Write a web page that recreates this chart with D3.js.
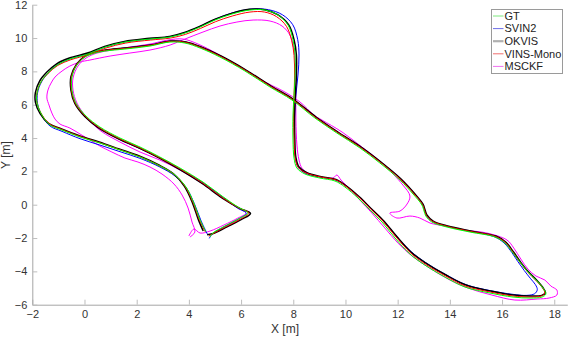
<!DOCTYPE html>
<html><head><meta charset="utf-8">
<script src="https://cdn.jsdelivr.net/npm/d3@7/dist/d3.min.js"></script>
<style>body{margin:0;background:#fff}svg{display:block;font-family:"Liberation Sans",Arial,sans-serif}</style>
</head><body><svg id="c" width="568" height="338"></svg>
<script>
const xTicks=[-2,0,2,4,6,8,10,12,14,16,18];
const yTicks=[-6,-4,-2,0,2,4,6,8,10,12];
const seriesNames=["GT","SVIN2","OKVIS","VINS-Mono","MSCKF"];

const gt=[[4.65,-1.64],[4.43,-0.92],[4.19,0.10],[3.89,1.06],[3.47,1.78],[2.89,2.32],[2.13,2.86],[1.36,3.28],[0.59,3.70],[-0.17,4.06],[-0.86,4.48],[-1.32,4.78],[-1.63,5.38],[-1.82,6.10],[-1.82,6.70],[-1.67,7.36],[-1.40,7.90],[-1.05,8.38],[-0.56,8.74],[0.13,9.04],[0.79,9.46],[1.55,9.76],[2.51,9.94],[3.28,10.06],[3.85,10.30],[4.43,10.66],[5.00,11.08],[5.65,11.44],[6.34,11.68],[6.92,11.68],[7.41,11.38],[7.80,10.78],[7.99,9.88],[8.07,8.98],[8.07,7.78],[8.03,6.58],[7.99,5.38],[7.99,3.88],[8.03,2.80],[8.14,2.20],[8.45,1.84],[9.02,1.60],[9.60,1.42],[9.98,1.06],[10.48,0.40],[10.94,-0.32],[11.40,-1.04],[11.90,-2.00],[12.47,-2.96],[13.04,-3.62],[13.81,-4.34],[14.58,-4.94],[15.54,-5.30],[16.42,-5.54],[17.07,-5.60],[17.53,-5.54],[17.68,-5.36],[17.57,-5.00],[17.34,-4.58],[16.99,-4.04],[16.68,-3.44],[16.42,-2.90],[16.11,-2.30],[15.73,-1.94],[14.77,-1.64],[13.89,-1.34],[13.31,-1.04],[13.08,-0.68],[13.01,-0.38],[12.93,-0.02],[12.59,0.64],[12.09,1.48],[11.32,2.50],[10.56,3.40],[9.67,4.30],[8.83,5.20],[7.95,6.28],[7.11,7.06],[6.15,8.02],[5.19,8.86],[4.43,9.40],[3.85,9.70],[3.28,9.76],[2.51,9.52],[1.55,9.34],[0.79,9.22],[0.40,9.10],[0.02,8.86],[-0.29,8.38],[-0.48,7.66],[-0.48,6.88],[-0.33,6.10],[0.06,5.32],[0.59,4.66],[1.36,4.00],[2.13,3.46],[2.89,2.86],[3.66,2.20],[4.54,1.36],[5.27,0.52],[5.88,-0.14],[6.26,-0.50],[5.96,-0.80],[5.38,-1.28],[4.92,-1.70],[4.81,-1.94]];

const svin2=[[4.72,-1.80],[4.47,-0.98],[4.21,0.06],[3.90,1.02],[3.47,1.72],[2.89,2.26],[2.13,2.78],[1.36,3.18],[0.59,3.58],[-0.17,3.96],[-0.86,4.40],[-1.32,4.72],[-1.63,5.34],[-1.80,6.08],[-1.80,6.70],[-1.65,7.36],[-1.38,7.92],[-1.03,8.40],[-0.54,8.76],[0.13,9.06],[0.79,9.46],[1.55,9.76],[2.51,9.94],[3.28,10.08],[3.85,10.32],[4.43,10.70],[5.00,11.12],[5.65,11.50],[6.40,11.74],[7.05,11.70],[7.58,11.40],[7.98,10.80],[8.17,9.90],[8.22,8.98],[8.18,7.78],[8.10,6.58],[8.05,5.38],[8.04,3.88],[8.08,2.80],[8.20,2.22],[8.50,1.86],[9.05,1.66],[9.62,1.48],[10.02,1.12],[10.52,0.46],[10.98,-0.24],[11.45,-0.94],[11.95,-1.88],[12.52,-2.82],[13.08,-3.48],[13.85,-4.20],[14.62,-4.80],[15.56,-5.16],[16.42,-5.38],[16.95,-5.44],[17.25,-5.34],[17.35,-5.10],[17.28,-4.80],[17.10,-4.45],[16.85,-3.95],[16.60,-3.40],[16.38,-2.88],[16.08,-2.30],[15.70,-1.92],[14.77,-1.60],[13.89,-1.30],[13.33,-1.00],[13.10,-0.64],[13.03,-0.34],[12.95,0.02],[12.62,0.70],[12.12,1.54],[11.35,2.56],[10.58,3.46],[9.69,4.36],[8.85,5.26],[7.97,6.34],[7.13,7.12],[6.17,8.08],[5.21,8.92],[4.45,9.46],[3.87,9.76],[3.28,9.82],[2.51,9.58],[1.55,9.40],[0.79,9.26],[0.40,9.14],[0.02,8.90],[-0.30,8.40],[-0.50,7.66],[-0.50,6.88],[-0.35,6.08],[0.04,5.28],[0.57,4.60],[1.34,3.92],[2.11,3.38],[2.89,2.80],[3.66,2.14],[4.56,1.30],[5.28,0.46],[5.86,-0.20],[6.20,-0.52],[5.92,-0.84],[5.36,-1.32],[4.90,-1.76],[4.78,-2.02]];

const okvis=[[4.55,-1.58],[4.36,-0.88],[4.13,0.14],[3.83,1.10],[3.42,1.84],[2.85,2.38],[2.10,2.92],[1.33,3.34],[0.56,3.76],[-0.20,4.14],[-0.90,4.56],[-1.38,4.88],[-1.70,5.46],[-1.88,6.14],[-1.88,6.74],[-1.72,7.42],[-1.44,7.96],[-1.08,8.44],[-0.58,8.80],[0.11,9.10],[0.77,9.50],[1.53,9.80],[2.49,9.98],[3.26,10.10],[3.83,10.34],[4.41,10.70],[4.98,11.12],[5.63,11.48],[6.32,11.72],[6.90,11.70],[7.40,11.40],[7.82,10.80],[8.03,9.90],[8.12,8.98],[8.12,7.78],[8.08,6.58],[8.05,5.38],[8.06,3.88],[8.10,2.84],[8.22,2.26],[8.52,1.92],[9.08,1.68],[9.66,1.50],[10.04,1.12],[10.54,0.46],[11.00,-0.26],[11.46,-0.96],[11.96,-1.90],[12.52,-2.86],[13.08,-3.50],[13.85,-4.22],[14.62,-4.82],[15.56,-5.18],[16.44,-5.42],[17.08,-5.48],[17.52,-5.44],[17.66,-5.28],[17.55,-4.94],[17.32,-4.52],[16.98,-3.98],[16.68,-3.38],[16.44,-2.84],[16.14,-2.24],[15.76,-1.88],[14.80,-1.58],[13.92,-1.28],[13.36,-0.98],[13.12,-0.62],[13.05,-0.32],[12.97,0.04],[12.63,0.70],[12.13,1.54],[11.36,2.56],[10.60,3.46],[9.71,4.36],[8.87,5.26],[7.99,6.34],[7.15,7.12],[6.19,8.08],[5.23,8.92],[4.47,9.46],[3.89,9.76],[3.30,9.82],[2.53,9.58],[1.57,9.40],[0.81,9.28],[0.42,9.16],[0.02,8.92],[-0.31,8.42],[-0.52,7.68],[-0.52,6.88],[-0.37,6.08],[0.02,5.28],[0.55,4.60],[1.32,3.94],[2.10,3.40],[2.87,2.80],[3.64,2.12],[4.52,1.26],[5.28,0.40],[5.95,-0.22],[6.36,-0.52],[6.00,-0.90],[5.40,-1.38],[4.90,-1.74],[4.70,-1.80]];

const vinsMono=[[4.62,-1.62],[4.40,-0.90],[4.16,0.12],[3.86,1.08],[3.45,1.80],[2.87,2.34],[2.12,2.88],[1.35,3.30],[0.58,3.72],[-0.18,4.10],[-0.87,4.52],[-1.33,4.84],[-1.64,5.42],[-1.82,6.12],[-1.82,6.72],[-1.66,7.38],[-1.38,7.90],[-1.02,8.36],[-0.52,8.70],[0.16,9.00],[0.82,9.40],[1.58,9.70],[2.53,9.88],[3.30,10.00],[3.87,10.22],[4.45,10.58],[5.02,10.98],[5.66,11.32],[6.34,11.56],[6.90,11.56],[7.36,11.28],[7.74,10.70],[7.94,9.84],[8.03,8.96],[8.05,7.78],[8.03,6.58],[8.01,5.38],[8.03,3.88],[8.07,2.82],[8.19,2.24],[8.50,1.90],[9.06,1.66],[9.64,1.48],[10.02,1.10],[10.52,0.44],[10.98,-0.28],[11.44,-1.00],[11.94,-1.94],[12.50,-2.90],[13.06,-3.56],[13.84,-4.28],[14.60,-4.88],[15.55,-5.24],[16.43,-5.48],[17.07,-5.54],[17.50,-5.48],[17.64,-5.30],[17.54,-4.96],[17.30,-4.54],[16.96,-4.00],[16.66,-3.40],[16.42,-2.86],[16.12,-2.26],[15.74,-1.90],[14.78,-1.60],[13.90,-1.30],[13.34,-1.00],[13.10,-0.64],[13.03,-0.34],[12.95,0.02],[12.61,0.68],[12.11,1.52],[11.34,2.54],[10.58,3.44],[9.69,4.34],[8.85,5.24],[7.97,6.32],[7.13,7.10],[6.17,8.06],[5.21,8.90],[4.45,9.44],[3.87,9.74],[3.29,9.80],[2.52,9.56],[1.56,9.38],[0.80,9.26],[0.41,9.14],[0.02,8.90],[-0.30,8.40],[-0.50,7.66],[-0.50,6.88],[-0.35,6.08],[0.04,5.30],[0.57,4.62],[1.34,3.96],[2.11,3.42],[2.88,2.82],[3.65,2.16],[4.53,1.30],[5.27,0.44],[5.90,-0.18],[6.30,-0.50],[5.98,-0.86],[5.39,-1.34],[4.92,-1.74],[4.76,-1.88]];

const msckf=[[4.04,-1.94],[4.23,-1.64],[4.12,-1.04],[3.97,-0.20],[3.74,0.58],[3.43,1.24],[2.97,1.84],[2.51,2.26],[2.05,2.56],[1.55,2.80],[1.05,3.16],[0.59,3.52],[0.21,3.88],[-0.17,4.24],[-0.56,4.60],[-0.94,4.84],[-1.13,5.14],[-1.25,5.50],[-1.36,5.98],[-1.44,6.40],[-1.40,6.88],[-1.28,7.30],[-1.13,7.66],[-0.86,8.02],[-0.56,8.32],[-0.17,8.56],[0.21,8.68],[0.98,8.92],[1.74,9.10],[2.51,9.28],[3.28,9.58],[3.85,9.94],[4.54,10.36],[5.19,10.72],[5.84,10.96],[6.46,11.08],[7.11,11.02],[7.57,10.72],[7.87,10.18],[8.03,9.28],[8.10,7.78],[8.10,6.58],[8.10,5.08],[8.14,3.58],[8.22,2.68],[8.33,2.20],[8.56,1.90],[9.02,1.66],[9.52,1.60],[9.67,1.78],[9.83,1.48],[10.17,0.94],[10.55,0.28],[11.01,-0.50],[11.51,-1.40],[12.01,-2.30],[12.55,-3.08],[13.16,-3.74],[13.93,-4.46],[14.69,-5.00],[15.61,-5.42],[16.49,-5.72],[17.34,-5.66],[17.80,-5.60],[18.10,-5.42],[18.10,-5.12],[17.87,-4.88],[17.64,-4.52],[17.30,-4.28],[16.99,-3.86],[16.72,-3.26],[16.45,-2.60],[16.19,-2.12],[15.42,-1.70],[14.58,-1.52],[13.81,-1.28],[13.24,-1.10],[12.85,-0.80],[12.47,-0.68],[11.97,-0.80],[11.70,-0.50],[12.09,-0.38],[12.36,0.04],[12.47,0.52],[12.20,1.18],[11.40,2.50],[10.63,3.46],[9.87,4.36],[9.10,5.08],[8.79,5.38],[8.26,6.16],[7.68,6.76],[6.92,7.36],[6.03,8.20],[5.11,9.04],[4.35,9.64],[3.77,9.94],[3.20,9.88],[2.51,9.64],[1.74,9.46],[1.05,9.28],[0.48,9.10],[0.06,8.80],[-0.25,8.32],[-0.44,7.60],[-0.44,6.88],[-0.29,6.10],[0.10,5.20],[0.63,4.42],[1.36,3.76],[2.13,3.16],[2.89,2.68],[3.66,2.08],[4.54,1.24],[5.27,0.46],[5.88,-0.20],[6.19,-0.50],[5.88,-0.80],[5.34,-1.22],[4.81,-1.58],[4.43,-1.70],[4.19,-1.46],[4.00,-1.88]];

const seriesData=[gt,svin2,okvis,vinsMono,msckf];
const seriesColors=["#00ff00","#0000ff","#000000","#ff0000","#ff00ff"];
const legendColors=["#7fe87f","#6f6fe8","#b0b0b0","#f07070","#f070f0"];
const legendWidths=[1,1,2.2,1,1];

const svg=d3.select("#c");
const x=d3.scaleLinear().domain([-2,18.5]).range([32.3,567.3]);
const y=d3.scaleLinear().domain([-6,12]).range([304.7,4.7]);

const gx=svg.append("g").attr("transform",`translate(0,${y(-6)})`)
  .call(d3.axisBottom(x).tickValues(xTicks).tickSizeInner(-5).tickSizeOuter(0).tickPadding(6));
const gy=svg.append("g").attr("transform",`translate(${x(-2)},0)`)
  .call(d3.axisLeft(y).tickValues(yTicks).tickSizeInner(-5).tickSizeOuter(0).tickPadding(5));
[gx,gy].forEach(g=>{
  g.select(".domain").attr("stroke","#a6a6a6");
  g.selectAll(".tick line").attr("stroke","#bdbdbd");
  g.selectAll(".tick text").attr("fill","#333").attr("font-size",11).attr("font-family","Liberation Sans, Arial, sans-serif");
});

svg.append("text").attr("x",285).attr("y",333).attr("text-anchor","middle")
  .attr("font-size",12).attr("fill","#333").text("X [m]");
svg.append("text").attr("transform","translate(10,155) rotate(-90)").attr("text-anchor","middle")
  .attr("font-size",12).attr("fill","#333").text("Y [m]");

const line=d3.line().x(d=>x(d[0])).y(d=>y(d[1])).curve(d3.curveCatmullRom.alpha(0.5));
const order=[4,1,2,3,0];
order.forEach(i=>{
  svg.append("path").datum(seriesData[i]).attr("d",line).attr("fill","none")
    .attr("stroke",seriesColors[i]).attr("stroke-width",i===2?1.5:1);
});

const lg=svg.append("g");
lg.append("rect").attr("x",491.5).attr("y",9.5).attr("width",71).attr("height",64)
  .attr("fill","#fff").attr("stroke","#9a9a9a").attr("stroke-width",1);
seriesNames.forEach((n,i)=>{
  const yy=16+i*12.6;
  lg.append("line").attr("x1",493).attr("x2",503.5).attr("y1",yy).attr("y2",yy)
    .attr("stroke",legendColors[i]).attr("stroke-width",legendWidths[i]);
  lg.append("text").attr("x",504.5).attr("y",yy).attr("dy","0.35em").attr("font-size",11)
    .attr("fill","#222").text(n);
});
</script></body></html>
